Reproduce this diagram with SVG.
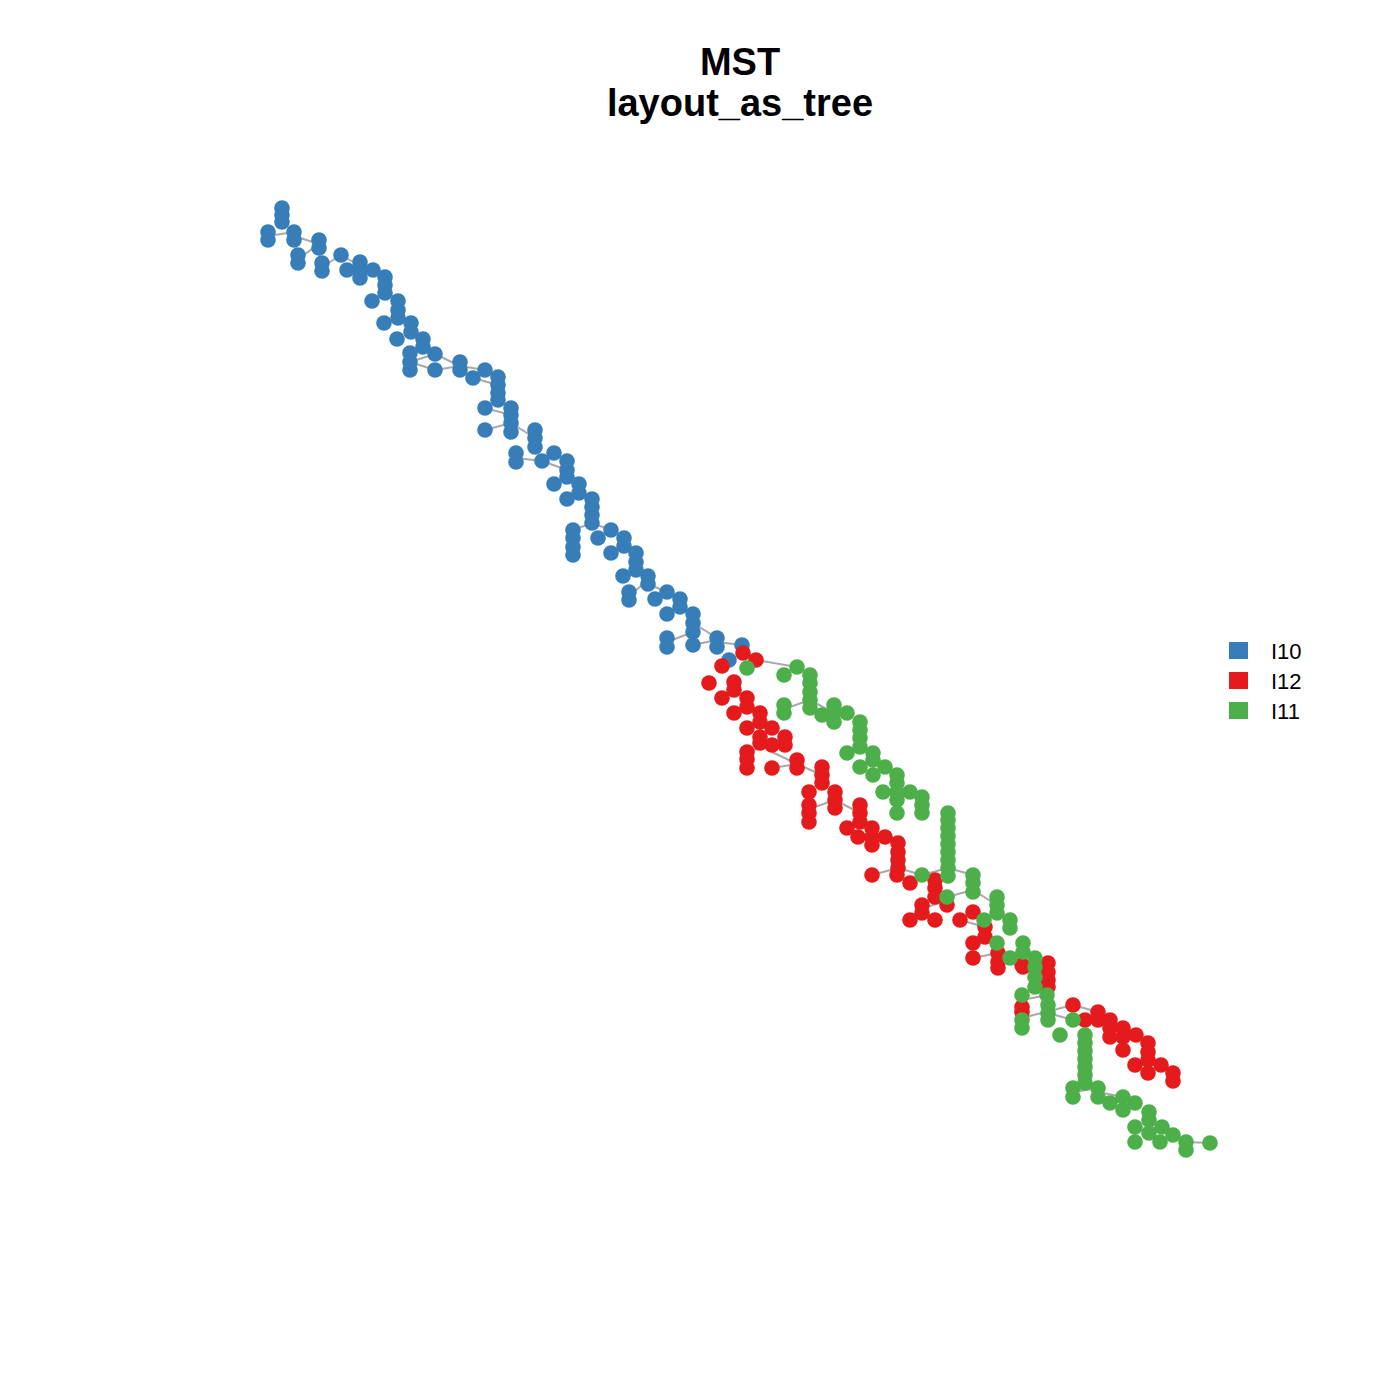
<svg xmlns="http://www.w3.org/2000/svg" width="1400" height="1400" viewBox="0 0 1400 1400">
<style>
.t{font-family:"Liberation Sans",Arial,sans-serif;font-weight:bold;font-size:38px;fill:#000;text-anchor:middle}
.lg{font-family:"Liberation Sans",Arial,sans-serif;font-size:22px;fill:#000}
.e line{stroke:#A9A9A9;stroke-width:2}
.b{fill:#377EB8}.r{fill:#E41A1C}.g{fill:#4DAF4A}
circle{r:7.8px}
</style>
<rect width="1400" height="1400" fill="#fff"/>
<text class="t" x="740" y="75">MST</text>
<text class="t" x="740" y="116">layout_as_tree</text>
<g id="edges" class="e">
<line x1="268" y1="236" x2="294" y2="232"/><line x1="294" y1="236" x2="319" y2="244"/><line x1="298" y1="259" x2="319" y2="244"/>
<line x1="322" y1="267" x2="341" y2="255"/><line x1="341" y1="255" x2="360" y2="266"/><line x1="347" y1="270" x2="360" y2="270"/>
<line x1="360" y1="270" x2="373" y2="270"/><line x1="385" y1="285" x2="398" y2="305"/><line x1="410" y1="362" x2="435" y2="354"/>
<line x1="410" y1="362" x2="435" y2="370"/><line x1="435" y1="354" x2="460" y2="366"/><line x1="435" y1="370" x2="460" y2="366"/>
<line x1="460" y1="366" x2="485" y2="370"/><line x1="473" y1="378" x2="498" y2="385"/><line x1="485" y1="408" x2="511" y2="415"/>
<line x1="485" y1="430" x2="511" y2="423"/><line x1="511" y1="423" x2="535" y2="438"/><line x1="516" y1="458" x2="542" y2="461"/>
<line x1="542" y1="461" x2="567" y2="470"/><line x1="573" y1="530" x2="592" y2="523"/><line x1="592" y1="523" x2="611" y2="530"/>
<line x1="629" y1="596" x2="648" y2="580"/><line x1="648" y1="584" x2="667" y2="592"/><line x1="667" y1="642" x2="693" y2="632"/>
<line x1="693" y1="645" x2="717" y2="640"/><line x1="693" y1="623" x2="717" y2="638"/><line x1="717" y1="642" x2="742" y2="645"/>
<line x1="756" y1="660" x2="797" y2="667"/><line x1="784" y1="709" x2="810" y2="700"/><line x1="810" y1="700" x2="834" y2="713"/>
<line x1="747" y1="752" x2="772" y2="745"/><line x1="772" y1="752" x2="797" y2="764"/><line x1="772" y1="768" x2="797" y2="764"/>
<line x1="797" y1="764" x2="822" y2="775"/><line x1="809" y1="809" x2="835" y2="800"/><line x1="835" y1="800" x2="860" y2="813"/>
<line x1="872" y1="875" x2="898" y2="868"/><line x1="898" y1="868" x2="922" y2="875"/><line x1="922" y1="875" x2="948" y2="868"/>
<line x1="948" y1="868" x2="973" y2="875"/><line x1="922" y1="909" x2="947" y2="900"/><line x1="947" y1="897" x2="973" y2="890"/>
<line x1="973" y1="890" x2="997" y2="905"/><line x1="960" y1="920" x2="985" y2="927"/><line x1="973" y1="958" x2="998" y2="953"/>
<line x1="1022" y1="1000" x2="1048" y2="995"/><line x1="1022" y1="1018" x2="1073" y2="1005"/><line x1="1048" y1="1013" x2="1073" y2="1020"/>
<line x1="1073" y1="1005" x2="1098" y2="1012"/><line x1="1073" y1="1092" x2="1098" y2="1088"/><line x1="1098" y1="1092" x2="1123" y2="1097"/>
<line x1="1186" y1="1142" x2="1210" y2="1143"/>
</g>
<g id="nodes-I10" class="b">
<circle cx="268" cy="232"/><circle cx="268" cy="240"/><circle cx="282" cy="208"/><circle cx="282" cy="215"/><circle cx="282" cy="222"/>
<circle cx="294" cy="232"/><circle cx="294" cy="240"/><circle cx="298" cy="255"/><circle cx="298" cy="263"/><circle cx="319" cy="240"/>
<circle cx="319" cy="248"/><circle cx="322" cy="263"/><circle cx="322" cy="271"/><circle cx="341" cy="255"/><circle cx="347" cy="270"/>
<circle cx="360" cy="262"/><circle cx="360" cy="270"/><circle cx="360" cy="278"/><circle cx="373" cy="270"/><circle cx="385" cy="277"/>
<circle cx="385" cy="285"/><circle cx="385" cy="293"/><circle cx="372" cy="301"/><circle cx="398" cy="301"/><circle cx="398" cy="310"/>
<circle cx="398" cy="318"/><circle cx="384" cy="323"/><circle cx="411" cy="323"/><circle cx="411" cy="332"/><circle cx="397" cy="339"/>
<circle cx="423" cy="339"/><circle cx="423" cy="347"/><circle cx="410" cy="353"/><circle cx="410" cy="362"/><circle cx="410" cy="370"/>
<circle cx="435" cy="354"/><circle cx="435" cy="370"/><circle cx="460" cy="362"/><circle cx="460" cy="370"/><circle cx="473" cy="378"/>
<circle cx="485" cy="370"/><circle cx="498" cy="377"/><circle cx="498" cy="385"/><circle cx="498" cy="393"/><circle cx="498" cy="400"/>
<circle cx="485" cy="408"/><circle cx="511" cy="408"/><circle cx="511" cy="415"/><circle cx="511" cy="423"/><circle cx="511" cy="432"/>
<circle cx="485" cy="430"/><circle cx="535" cy="430"/><circle cx="535" cy="438"/><circle cx="535" cy="447"/><circle cx="516" cy="453"/>
<circle cx="516" cy="462"/><circle cx="542" cy="461"/><circle cx="554" cy="453"/><circle cx="567" cy="461"/><circle cx="567" cy="470"/>
<circle cx="567" cy="477"/><circle cx="554" cy="484"/><circle cx="579" cy="484"/><circle cx="579" cy="493"/><circle cx="567" cy="499"/>
<circle cx="592" cy="499"/><circle cx="592" cy="507"/><circle cx="592" cy="515"/><circle cx="592" cy="523"/><circle cx="573" cy="530"/>
<circle cx="573" cy="538"/><circle cx="573" cy="547"/><circle cx="573" cy="555"/><circle cx="598" cy="538"/><circle cx="611" cy="530"/>
<circle cx="624" cy="538"/><circle cx="624" cy="546"/><circle cx="611" cy="553"/><circle cx="636" cy="553"/><circle cx="636" cy="562"/>
<circle cx="636" cy="570"/><circle cx="623" cy="576"/><circle cx="648" cy="576"/><circle cx="648" cy="584"/><circle cx="629" cy="592"/>
<circle cx="629" cy="600"/><circle cx="655" cy="599"/><circle cx="667" cy="592"/><circle cx="680" cy="599"/><circle cx="680" cy="607"/>
<circle cx="667" cy="614"/><circle cx="693" cy="614"/><circle cx="693" cy="623"/><circle cx="693" cy="632"/><circle cx="667" cy="638"/>
<circle cx="667" cy="647"/><circle cx="693" cy="645"/><circle cx="717" cy="638"/><circle cx="717" cy="647"/><circle cx="742" cy="645"/>
<circle cx="729" cy="660"/>
</g>
<g id="nodes-I12" class="r">
<circle cx="743" cy="653"/><circle cx="756" cy="660"/><circle cx="722" cy="666"/><circle cx="709" cy="683"/><circle cx="734" cy="682"/>
<circle cx="734" cy="690"/><circle cx="722" cy="698"/><circle cx="747" cy="698"/><circle cx="747" cy="707"/><circle cx="734" cy="713"/>
<circle cx="760" cy="713"/><circle cx="760" cy="722"/><circle cx="747" cy="728"/><circle cx="772" cy="728"/><circle cx="760" cy="737"/>
<circle cx="760" cy="743"/><circle cx="785" cy="737"/><circle cx="785" cy="745"/><circle cx="772" cy="745"/><circle cx="747" cy="752"/>
<circle cx="747" cy="759"/><circle cx="747" cy="768"/><circle cx="772" cy="768"/><circle cx="797" cy="760"/><circle cx="797" cy="768"/>
<circle cx="822" cy="767"/><circle cx="822" cy="775"/><circle cx="822" cy="783"/><circle cx="809" cy="792"/><circle cx="835" cy="792"/>
<circle cx="835" cy="800"/><circle cx="835" cy="808"/><circle cx="809" cy="805"/><circle cx="809" cy="813"/><circle cx="809" cy="822"/>
<circle cx="860" cy="805"/><circle cx="860" cy="813"/><circle cx="860" cy="822"/><circle cx="847" cy="828"/><circle cx="872" cy="828"/>
<circle cx="872" cy="837"/><circle cx="872" cy="845"/><circle cx="858" cy="837"/><circle cx="885" cy="837"/><circle cx="898" cy="843"/>
<circle cx="898" cy="852"/><circle cx="898" cy="860"/><circle cx="898" cy="868"/><circle cx="872" cy="875"/><circle cx="897" cy="875"/>
<circle cx="910" cy="883"/><circle cx="935" cy="880"/><circle cx="935" cy="888"/><circle cx="935" cy="897"/><circle cx="947" cy="905"/>
<circle cx="922" cy="905"/><circle cx="922" cy="913"/><circle cx="910" cy="920"/><circle cx="935" cy="920"/><circle cx="960" cy="920"/>
<circle cx="973" cy="912"/><circle cx="985" cy="927"/><circle cx="985" cy="937"/><circle cx="973" cy="943"/><circle cx="973" cy="958"/>
<circle cx="998" cy="953"/><circle cx="998" cy="962"/><circle cx="998" cy="968"/><circle cx="1023" cy="967"/><circle cx="1048" cy="963"/>
<circle cx="1048" cy="972"/><circle cx="1048" cy="980"/><circle cx="1048" cy="987"/><circle cx="1022" cy="965"/><circle cx="1022" cy="1007"/>
<circle cx="1022" cy="1012"/><circle cx="1073" cy="1005"/><circle cx="1085" cy="1020"/><circle cx="1098" cy="1012"/><circle cx="1098" cy="1020"/>
<circle cx="1110" cy="1020"/><circle cx="1110" cy="1028"/><circle cx="1110" cy="1037"/><circle cx="1123" cy="1028"/><circle cx="1123" cy="1037"/>
<circle cx="1123" cy="1050"/><circle cx="1136" cy="1035"/><circle cx="1148" cy="1043"/><circle cx="1148" cy="1052"/><circle cx="1148" cy="1060"/>
<circle cx="1135" cy="1065"/><circle cx="1148" cy="1073"/><circle cx="1161" cy="1065"/><circle cx="1173" cy="1073"/><circle cx="1173" cy="1081"/>
</g>
<g id="nodes-I11" class="g">
<circle cx="747" cy="668"/><circle cx="797" cy="667"/><circle cx="784" cy="675"/><circle cx="810" cy="675"/><circle cx="810" cy="683"/>
<circle cx="810" cy="692"/><circle cx="810" cy="700"/><circle cx="810" cy="708"/><circle cx="784" cy="705"/><circle cx="784" cy="713"/>
<circle cx="822" cy="715"/><circle cx="834" cy="705"/><circle cx="834" cy="713"/><circle cx="834" cy="722"/><circle cx="847" cy="713"/>
<circle cx="860" cy="722"/><circle cx="860" cy="730"/><circle cx="860" cy="738"/><circle cx="860" cy="747"/><circle cx="847" cy="753"/>
<circle cx="873" cy="753"/><circle cx="873" cy="760"/><circle cx="860" cy="767"/><circle cx="885" cy="767"/><circle cx="873" cy="775"/>
<circle cx="897" cy="775"/><circle cx="897" cy="783"/><circle cx="883" cy="792"/><circle cx="897" cy="792"/><circle cx="910" cy="792"/>
<circle cx="897" cy="800"/><circle cx="922" cy="797"/><circle cx="922" cy="805"/><circle cx="922" cy="813"/><circle cx="897" cy="813"/>
<circle cx="948" cy="813"/><circle cx="948" cy="820"/><circle cx="948" cy="828"/><circle cx="948" cy="836"/><circle cx="948" cy="844"/>
<circle cx="948" cy="852"/><circle cx="948" cy="860"/><circle cx="948" cy="868"/><circle cx="948" cy="876"/><circle cx="922" cy="875"/>
<circle cx="973" cy="875"/><circle cx="973" cy="883"/><circle cx="973" cy="892"/><circle cx="947" cy="897"/><circle cx="997" cy="897"/>
<circle cx="997" cy="905"/><circle cx="997" cy="913"/><circle cx="984" cy="920"/><circle cx="1010" cy="920"/><circle cx="1010" cy="928"/>
<circle cx="997" cy="943"/><circle cx="1023" cy="943"/><circle cx="1023" cy="952"/><circle cx="1010" cy="958"/><circle cx="1035" cy="958"/>
<circle cx="1035" cy="967"/><circle cx="1035" cy="977"/><circle cx="1035" cy="987"/><circle cx="1022" cy="995"/><circle cx="1047" cy="995"/>
<circle cx="1048" cy="1005"/><circle cx="1048" cy="1013"/><circle cx="1048" cy="1020"/><circle cx="1022" cy="1020"/><circle cx="1022" cy="1028"/>
<circle cx="1073" cy="1020"/><circle cx="1060" cy="1035"/><circle cx="1085" cy="1035"/><circle cx="1085" cy="1043"/><circle cx="1085" cy="1051"/>
<circle cx="1085" cy="1059"/><circle cx="1085" cy="1067"/><circle cx="1085" cy="1075"/><circle cx="1085" cy="1083"/><circle cx="1073" cy="1088"/>
<circle cx="1073" cy="1097"/><circle cx="1098" cy="1088"/><circle cx="1098" cy="1097"/><circle cx="1110" cy="1103"/><circle cx="1123" cy="1097"/>
<circle cx="1123" cy="1110"/><circle cx="1135" cy="1103"/><circle cx="1149" cy="1112"/><circle cx="1149" cy="1120"/><circle cx="1135" cy="1127"/>
<circle cx="1135" cy="1142"/><circle cx="1162" cy="1127"/><circle cx="1149" cy="1133"/><circle cx="1173" cy="1135"/><circle cx="1160" cy="1142"/>
<circle cx="1186" cy="1142"/><circle cx="1186" cy="1150"/><circle cx="1210" cy="1143"/>
</g>
<g id="legend">
<rect class="b" x="1229" y="642" width="19" height="17"/>
<rect class="r" x="1229" y="672" width="19" height="17"/>
<rect class="g" x="1229" y="702" width="19" height="17"/>
<text class="lg" x="1271" y="659">I10</text>
<text class="lg" x="1271" y="689">I12</text>
<text class="lg" x="1271" y="719">I11</text>
</g>
</svg>
